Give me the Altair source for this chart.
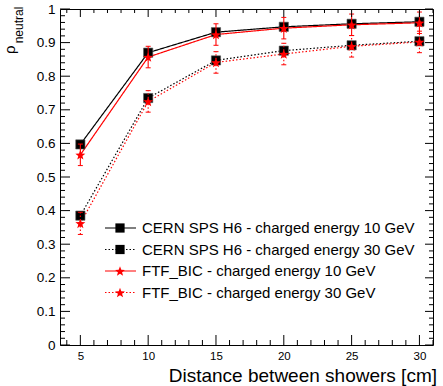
import math
import altair as alt
import pandas as pd

# ---------------- data ----------------
distance = [5, 10, 15, 20, 25, 30]
series_names = [
    "CERN SPS H6 - charged energy 10 GeV",
    "CERN SPS H6 - charged energy 30 GeV",
    "FTF_BIC - charged energy 10 GeV",
    "FTF_BIC - charged energy 30 GeV",
]
cern_10 = [0.597, 0.870, 0.931, 0.947, 0.956, 0.962]
cern_30 = [0.385, 0.735, 0.847, 0.876, 0.892, 0.904]
ftf_10 = [0.566, 0.857, 0.924, 0.943, 0.953, 0.959]
ftf_30 = [0.362, 0.725, 0.841, 0.866, 0.889, 0.902]
cern_10_err = [0.0, 0.0, 0.0, 0.0, 0.0, 0.0]
cern_30_err = [0.0, 0.0, 0.0, 0.0, 0.0, 0.0]
ftf_10_err = [0.032, 0.032, 0.032, 0.032, 0.032, 0.032]
ftf_30_err = [0.033, 0.032, 0.032, 0.032, 0.032, 0.032]
x_tick_labels = [5, 10, 15, 20, 25, 30]
y_tick_labels = [0.0, 0.1, 0.2, 0.3, 0.4, 0.5, 0.6, 0.7, 0.8, 0.9, 1.0]

# ---------------- layout ----------------
W, H = 373, 336
PAD = {"left": 60, "top": 9, "right": 10, "bottom": 41}
XMIN, XMAX = 3.5, 31.0
FONT = "Liberation Sans"

# five-pointed star symbol path in the [-1, 1] box
_pts = []
for k in range(10):
    r = 1.0 if k % 2 == 0 else 0.42
    a = math.radians(-90 + 36 * k)
    _pts.append(f"{r * math.cos(a):.3f},{r * math.sin(a) + 0.1:.3f}")
STAR = "M" + "L".join(_pts) + "Z"

rows = []
for name, vals, errs in zip(series_names, [cern_10, cern_30, ftf_10, ftf_30],
                            [cern_10_err, cern_30_err, ftf_10_err, ftf_30_err]):
    for d, v, e in zip(distance, vals, errs):
        rows.append({"series": name, "x": d, "y": v, "lo": v - e, "hi": v + e})
df = pd.DataFrame(rows)

xs = alt.Scale(domain=[XMIN, XMAX], nice=False, zero=False)
ys = alt.Scale(domain=[0, 1], nice=False, zero=False)
color_scale = alt.Scale(domain=series_names, range=["#000000", "#000000", "#ff0000", "#ff0000"])
dash_scale = alt.Scale(domain=series_names, range=[[1, 0], [1.5, 2], [1, 0], [1.5, 2]])

x_axis = alt.Axis(values=x_tick_labels, ticks=False, tickSize=0, domain=False, grid=False,
                  labelFontSize=11.5, labelPadding=5, labelColor="black", labelFont=FONT,
                  title=None, orient="bottom")
y_axis = alt.Axis(values=y_tick_labels, format="~g", ticks=False, tickSize=0, domain=False,
                  grid=False, labelFontSize=13.5, labelPadding=5, labelColor="black",
                  labelFont=FONT, title=None, orient="left")

cern = series_names[:2]
ftf = series_names[2:]


def XQ(f):
    return alt.X(f, scale=xs, axis=x_axis, title=None)


def YQ(f):
    return alt.Y(f, scale=ys, axis=y_axis, title=None)


base = alt.Chart(df)
C = alt.Color("series:N", scale=color_scale, legend=None)
D = alt.StrokeDash("series:N", scale=dash_scale, legend=None)

lines = base.mark_line(strokeWidth=1.2).encode(
    x=XQ("x:Q"), y=YQ("y:Q"), color=C, strokeDash=D, detail="series:N")

f_cern = alt.FieldOneOfPredicate(field="series", oneOf=cern)
f_ftf = alt.FieldOneOfPredicate(field="series", oneOf=ftf)

squares = base.transform_filter(f_cern).mark_point(
    shape="square", filled=True, size=85, opacity=1, color="black", stroke="#555555", strokeWidth=0.6
).encode(x=XQ("x:Q"), y=YQ("y:Q"))

err = base.transform_filter(f_ftf).mark_rule(strokeWidth=1.1).encode(
    x=XQ("x:Q"), y=YQ("lo:Q"), y2="hi:Q", color=C, strokeDash=D)

cap_lo = base.transform_filter(f_ftf).mark_tick(
    orient="horizontal", size=5, thickness=1, opacity=1).encode(x=XQ("x:Q"), y=YQ("lo:Q"), color=C)
cap_hi = base.transform_filter(f_ftf).mark_tick(
    orient="horizontal", size=5, thickness=1, opacity=1).encode(x=XQ("x:Q"), y=YQ("hi:Q"), color=C)

stars = base.transform_filter(f_ftf).mark_point(
    shape=STAR, filled=True, size=110, opacity=1, color="#ff0000"
).encode(x=XQ("x:Q"), y=YQ("y:Q"))


# ---------------- tick marks (inside, ROOT style) ----------------
def frac(a, b, n):
    return [a + (b - a) * i / n for i in range(n + 1)]


y_minor_vals = [v for v in frac(0, 1, 50) if abs(v * 10 - round(v * 10)) > 1e-6]
x_minor_vals = [v for v in range(4, 32) if v % 5 != 0]


def yticks(vals, x0, x1):
    return alt.Chart(pd.DataFrame({"v": vals})).mark_rule(color="black", strokeWidth=1).encode(
        y=YQ("v:Q"), x=alt.value(x0), x2=alt.value(x1))


def xticks(vals, y0, y1):
    return alt.Chart(pd.DataFrame({"v": vals})).mark_rule(color="black", strokeWidth=1).encode(
        x=XQ("v:Q"), y=alt.value(y0), y2=alt.value(y1))


tick_layers = [
    yticks(y_tick_labels, 0, 10), yticks(y_minor_vals, 0, 5),
    yticks(y_tick_labels, W, W - 8), yticks(y_minor_vals, W, W - 4),
    xticks(x_tick_labels, H, H - 10), xticks(x_minor_vals, H, H - 5),
    xticks(x_tick_labels, 0, 8), xticks(x_minor_vals, 0, 4),
]


# ---------------- legend (drawn in data coords) ----------------
def px_x(px):
    return XMIN + px / W * (XMAX - XMIN)


def px_y(py):
    return 1 - py / H


leg_top, leg_step = 219.0, 21.5
leg = pd.DataFrame({
    "series": series_names,
    "ly": [px_y(leg_top + i * leg_step) for i in range(len(series_names))],
    "lx0": px_x(45), "lx1": px_x(76), "lm": px_x(60), "lt": px_x(82),
})
lbase = alt.Chart(leg)
leg_lines = lbase.mark_rule(strokeWidth=1.2).encode(
    x=XQ("lx0:Q"), x2="lx1:Q", y=YQ("ly:Q"), color=C, strokeDash=D)
leg_sq = lbase.transform_filter(f_cern).mark_point(
    shape="square", filled=True, size=85, opacity=1, color="black"
).encode(x=XQ("lm:Q"), y=YQ("ly:Q"))
leg_st = lbase.transform_filter(f_ftf).mark_point(
    shape=STAR, filled=True, size=110, opacity=1, color="#ff0000"
).encode(x=XQ("lm:Q"), y=YQ("ly:Q"))
leg_txt = lbase.mark_text(align="left", baseline="middle", fontSize=15, font=FONT, color="black").encode(
    x=XQ("lt:Q"), y=YQ("ly:Q"), text="series:N")

# ---------------- titles ----------------
rho = alt.Chart(pd.DataFrame({"t": ["ρ"]})).mark_text(
    angle=270, align="left", baseline="alphabetic", fontSize=15, font=FONT, color="black").encode(
    text="t:N", x=alt.value(-45.5), y=alt.value(45))
sub = alt.Chart(pd.DataFrame({"t": ["neutral"]})).mark_text(
    angle=270, align="left", baseline="alphabetic", fontSize=12, font=FONT, color="black").encode(
    text="t:N", x=alt.value(-36.7), y=alt.value(34.3))
xtitle = alt.Chart(pd.DataFrame({"t": ["Distance between showers [cm]"]})).mark_text(
    align="right", baseline="alphabetic", fontSize=19, font=FONT, color="black").encode(
    text="t:N", x=alt.value(377), y=alt.value(372.7))

chart = alt.layer(
    lines, squares, err, cap_lo, cap_hi, stars, *tick_layers,
    leg_lines, leg_sq, leg_st, leg_txt, rho, sub, xtitle
).properties(
    width=W, height=H, padding=PAD, autosize=alt.AutoSizeParams(type="none"), background="white"
).configure(font=FONT).configure_view(stroke="black", strokeWidth=1)

chart.save("out.html", embed_options={"renderer": "svg", "actions": False})
